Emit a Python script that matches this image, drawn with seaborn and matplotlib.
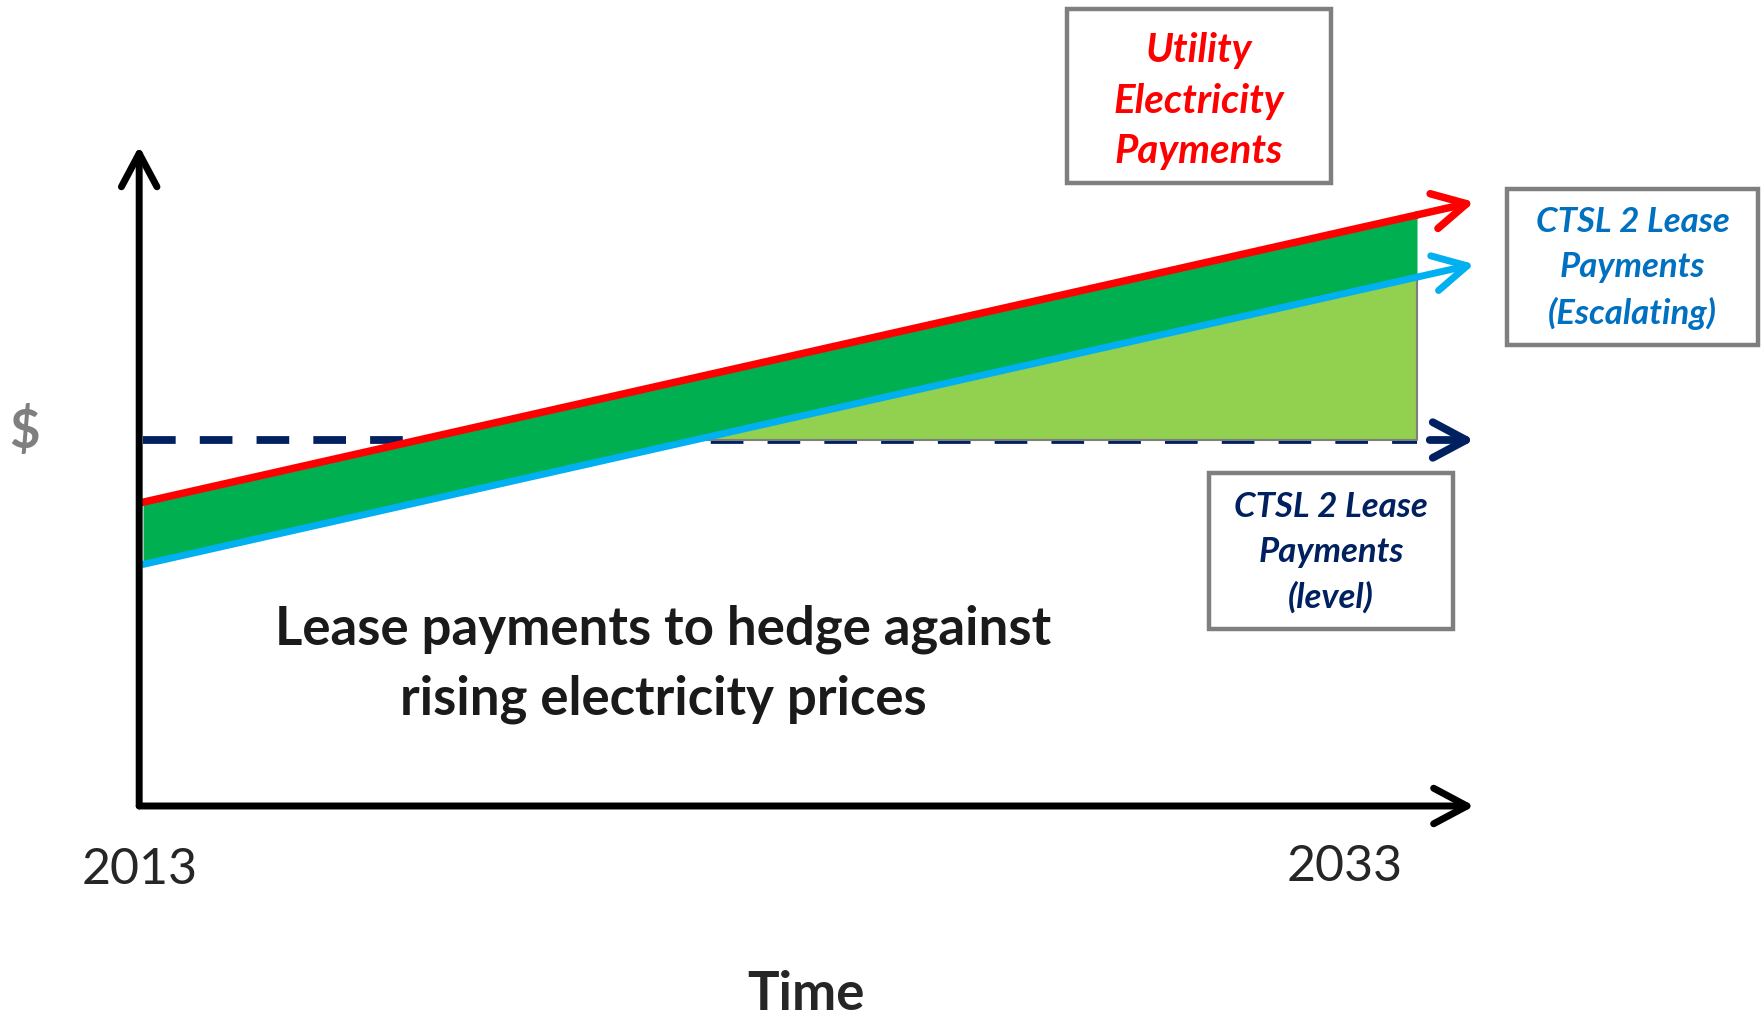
import matplotlib
matplotlib.use("Agg")
import matplotlib.pyplot as plt
import matplotlib.patches as patches
import seaborn as sns
import pandas as pd

# data
years = [2013, 2033]
utility = [83, 161.5]        # utility electricity payments
escalating = [66, 144.5]     # CTSL 2 lease payments (escalating)
level = [100, 100]           # CTSL 2 lease payments (level)
year_labels = ["2013", "2033"]

df = pd.DataFrame({"year": years, "utility": utility,
                   "escalating": escalating, "level": level})

sns.set_style("white")
plt.rcParams['font.family'] = ['Lato', 'DejaVu Sans']

W, H = 1761, 1016
fig = plt.figure(figsize=(W / 100, H / 100), dpi=100)
ax = fig.add_axes([0, 0, 1, 1])
ax.set_xlim(2010.755, 2038.40)
ax.set_ylim(-57.38, 220.22)
ax.axis('off')


def fx(px):
    return px / W


def fy(py):
    return 1 - py / H


def tip(vals, t=2033.9):
    # extend the line a bit past the last year for the arrow head
    slope = (vals[1] - vals[0]) / (years[1] - years[0])
    return vals[1] + slope * (t - years[1])


RED, BLUE, NAVY = "#FF0000", "#00B0F0", "#002060"
DKGREEN, LTGREEN, GREY = "#00B050", "#92D050", "#7F7F7F"
head = "->, head_length=0.6, head_width=0.32"


def arrow(start, end, color, lw, z):
    ax.annotate("", xy=end, xytext=start,
                arrowprops=dict(arrowstyle=head, color=color, lw=lw,
                                mutation_scale=40, capstyle='round',
                                joinstyle='round', shrinkA=0, shrinkB=0),
                zorder=z)


# level line (dashed) under the fills
sns.lineplot(data=df, x="year", y="level", color=NAVY, lw=5.6, ax=ax, zorder=1)
ax.lines[-1].set_dashes((4.2, 3.1))
ax.lines[-1].set_dash_capstyle('butt')
arrow((2033.2, level[1]), (2033.9, level[1]), NAVY, 5.6, 1)

# savings areas
ax.fill_between(df["year"], df["level"], df["escalating"],
                where=df["escalating"] > df["level"], interpolate=True,
                color=LTGREEN, edgecolor=GREY, lw=1.5, zorder=2)
ax.fill_between(df["year"], df["escalating"], df["utility"],
                color=DKGREEN, lw=0, zorder=3)

# payment lines
sns.lineplot(data=df, x="year", y="escalating", color=BLUE, lw=5,
             ax=ax, zorder=4)
sns.lineplot(data=df, x="year", y="utility", color=RED, lw=5.4,
             ax=ax, zorder=4)
for vals, c, w in [(escalating, BLUE, 5), (utility, RED, 5.4)]:
    arrow((years[1], vals[1]), (2033.9, tip(vals)), c, w, 4)

# axes arrows
x0 = 2012.94
arrow((x0, 0), (x0, 180.3), "black", 5, 5)
arrow((x0, 0), (2033.9, 0), "black", 5, 5)
ax.set_xlabel("")
ax.set_ylabel("")

# texts
fig.text(fx(140), fy(870), year_labels[0], fontsize=36, ha='center', va='center')
fig.text(fx(1345), fy(867), year_labels[1], fontsize=36, ha='center', va='center')
fig.text(fx(806), fy(994), "Time", fontsize=38, fontweight='bold',
         ha='center', va='center')
fig.text(fx(25), fy(432), "$", fontsize=38, fontweight='bold', color=GREY,
         ha='center', va='center')
fig.text(fx(663), fy(664), "Lease payments to hedge against\nrising electricity prices",
         fontsize=38, fontweight='bold', color="#1a1a1a", ha='center',
         va='center', linespacing=1.5)

boxes = [
    ((1067, 9, 1331, 183), 101, "Utility\nElectricity\nPayments", RED, 29, 1.45),
    ((1507, 189, 1758, 345), 268, "CTSL 2 Lease\nPayments\n(Escalating)", "#0070C0", 25, 1.5),
    ((1209, 473, 1453, 629), 552, "CTSL 2 Lease\nPayments\n(level)", NAVY, 25, 1.5),
]
for (l, t, r, b), cy, txt, c, fs, ls in boxes:
    fig.patches.append(patches.Rectangle((fx(l), fy(b)), fx(r - l), (b - t) / H,
                                         transform=fig.transFigure, fill=False,
                                         edgecolor=GREY, lw=3.2))
    fig.text(fx((l + r) / 2), fy(cy), txt, fontsize=fs, color=c,
             fontweight='bold', fontstyle='italic', ha='center', va='center',
             linespacing=ls)

fig.savefig("out.png", dpi=100)
